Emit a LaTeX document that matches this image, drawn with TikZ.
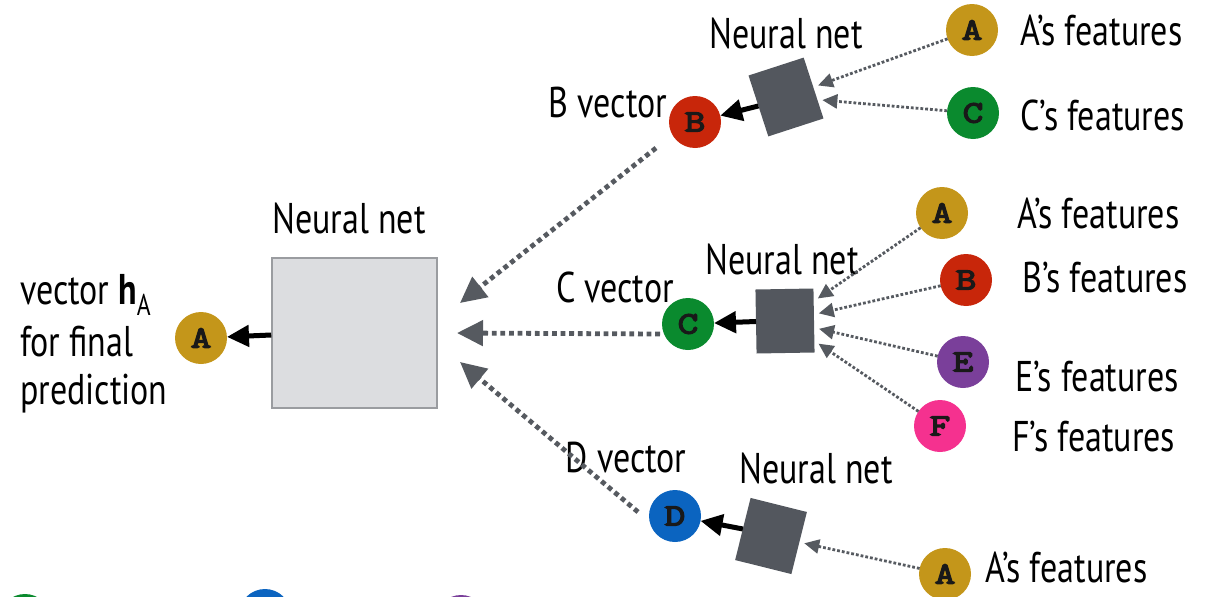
\documentclass[tikz,border=0pt]{standalone}
\usepackage{fontspec}
\setmainfont{PT Sans}[FakeStretch=0.79]
\newfontfamily\entfont{Latin Modern Mono}[FakeBold=4.5, FakeStretch=1.3]
\usetikzlibrary{arrows.meta}
\definecolor{cgold}{HTML}{C4961A}
\definecolor{cred}{HTML}{C8260A}
\definecolor{cgreen}{HTML}{0A8A2E}
\definecolor{cblue}{HTML}{0B64C0}
\definecolor{cpurple}{HTML}{7A3F9A}
\definecolor{cpink}{HTML}{F5318F}
\definecolor{netdark}{HTML}{53575E}
\definecolor{netlight}{HTML}{DCDDE0}
\definecolor{netedge}{HTML}{9A9CA0}
\definecolor{dotgray}{HTML}{565A60}
\tikzset{
  lbl/.style={font=\fontsize{43}{50}\selectfont, inner sep=0pt, text=black},
  ent/.style={circle, fill=#1, minimum size=52pt, inner sep=0pt, outer sep=0pt,
    font=\entfont\fontsize{31}{31}\selectfont, text=black!90},
  smallnet/.style={rectangle, fill=netdark, minimum width=58pt, minimum height=64pt,
    inner sep=0pt, outer sep=0pt},
  bignet/.style={rectangle, fill=netlight, draw=netedge, line width=1.5pt,
    minimum width=165pt, minimum height=150pt, inner sep=0pt},
  blk/.style={line width=5pt, black, -{Triangle[length=22pt,width=21pt]}},
  big/.style={line width=4.8pt, dotgray, dash pattern=on 4.8pt off 3.8pt,
    -{Triangle[length=26pt,width=25pt]}},
  feat/.style={line width=2.8pt, dotgray, dash pattern=on 2.8pt off 2pt,
    -{Triangle[length=15pt,width=14pt]}, shorten >=5pt},
}
\begin{document}
\begin{tikzpicture}[x=1pt,y=-1pt]
\useasboundingbox (0,0) rectangle (1211,597);
\clip (0,0) rectangle (1211,597);

% aggregating network and its output
\node[bignet] (main) at (354.5,333) {};
\node[lbl] (mainlbl) at (349,218) {Neural net};
\node[ent=cgold] (hA) at (201,338) {A};
\node[lbl, anchor=west] (t1) at (20,295) {vector \textbf{h}\raisebox{-0.25em}{\fontsize{30}{30}\selectfont A}};
\node[lbl, anchor=west] (t2) at (20,342) {for final};
\node[lbl, anchor=west] (t3) at (20,394) {prediction};
\draw[blk] (main.west |- 0,335) coordinate (mw) -- (hA);

% neighbour vectors
\node[ent=cred] (B) at (695,122) {B};
\node[lbl] (Blbl) at (608,103) {B vector};
\node[ent=cgreen] (C) at (688,324) {C};
\node[lbl] (Clbl) at (615,287) {C vector};
\node[ent=cblue] (D) at (675,516) {D};
\node[lbl] (Dlbl) at (626,458) {D vector};

\coordinate (inB) at (460,303);
\coordinate (inC) at (457,333);
\coordinate (inD) at (460,362);
\coordinate (fromB) at (656,148);
\coordinate (fromC) at (660,334);
\coordinate (fromD) at (638,512);
\draw[big] (fromB) -- (inB);
\draw[big] (fromC) -- (inC);
\draw[big] (fromD) -- (inD);

% network for B
\node[smallnet, rotate=18] (netB) at (786,97) {};
\node[lbl] (netBlbl) at (786,33) {Neural net};
\node[ent=cgold] (bA) at (972,30) {A};
\node[ent=cgreen] (bC) at (973,113) {C};
\node[lbl, anchor=west] (bAl) at (1020,30) {A’s features};
\node[lbl, anchor=west] (bCl) at (1020,115) {C’s features};
\draw[feat] (bA) -- (netB);
\draw[feat] (bC) -- (netB);
\draw[blk] (netB.west) -- (B);

% network for C
\node[smallnet, rotate=1] (netC) at (785,321) {};
\node[lbl] (netClbl) at (782,259) {Neural net};
\node[ent=cgold] (cA) at (942,213) {A};
\node[ent=cred] (cB) at (966,280) {B};
\node[ent=cpurple] (cE) at (963,362) {E};
\node[ent=cpink] (cF) at (940,426) {F};
\node[lbl, anchor=west] (cAl) at (1017,213) {A’s features};
\node[lbl, anchor=west] (cBl) at (1022,278) {B’s features};
\node[lbl, anchor=west] (cEl) at (1015,377) {E’s features};
\node[lbl, anchor=west] (cFl) at (1012,437) {F’s features};
\draw[feat] (cA) -- (netC);
\draw[feat] (cB) -- (netC);
\draw[feat] (cE) -- (netC);
\draw[feat] (cF) -- (netC);
\draw[blk] (netC.west) -- (C);

% network for D
\node[smallnet, rotate=-14] (netD) at (771,536) {};
\node[lbl] (netDlbl) at (816,468) {Neural net};
\node[ent=cgold] (dA) at (945,574) {A};
\node[lbl, anchor=west] (dAl) at (985,567) {A’s features};
\draw[feat] (dA) -- (netD);
\draw[blk] (netD.west) -- (D);

% further entities below the edge
\node[ent=cgreen] (g1) at (25,620) {};
\node[ent=cblue] (g2) at (265,615) {};
\node[ent=cpurple] (g3) at (461,621) {};
\end{tikzpicture}
\end{document}
